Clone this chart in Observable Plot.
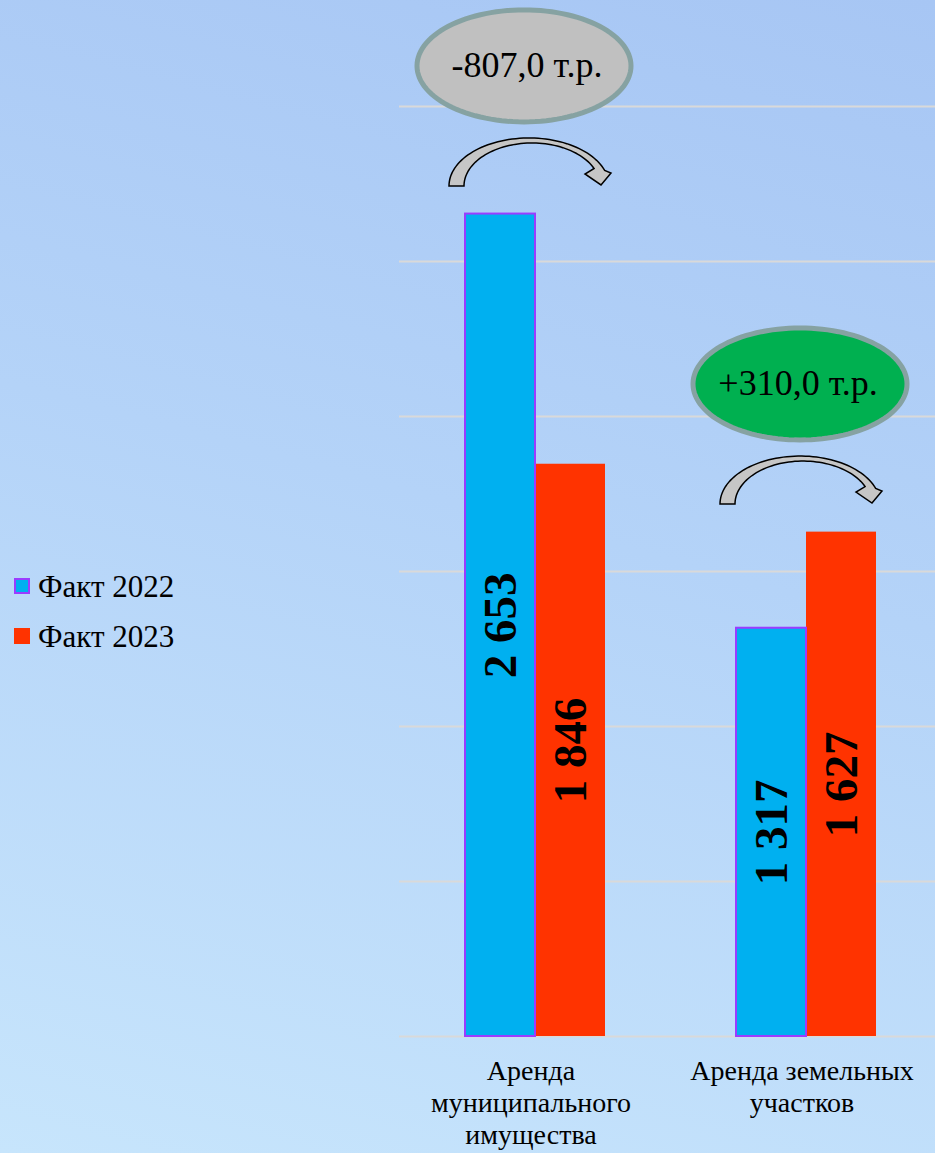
<!DOCTYPE html>
<html>
<head>
<meta charset="utf-8">
<script src="https://cdn.jsdelivr.net/npm/d3@7"></script>
<script src="https://cdn.jsdelivr.net/npm/@observablehq/plot@0.6"></script>
<style>
  html, body { margin: 0; padding: 0; }
  #wrap {
    position: relative; width: 935px; height: 1153px; overflow: hidden;
    background: linear-gradient(195deg, #a7c6f4 0%, #b4d3f8 45%, #c7e5fc 100%);
    font-family: "Liberation Serif", "Times New Roman", serif;
  }
  #chart { position: absolute; left: 0; top: 0; }
  .leg { position: absolute; left: 0; font-size: 31px; line-height: 31px; color: #000; white-space: nowrap; }
  .leg .sw { position: absolute; left: 14px; width: 16px; height: 16px; box-sizing: border-box; }
  .leg .lb { position: absolute; left: 38px; }
</style>
</head>
<body>
<div id="wrap">
  <div id="chart"></div>
  <div id="legend"></div>
</div>
<script>
// ---- data ----
const categories = ["Аренда\nмуниципального\nимущества", "Аренда земельных\nучастков"];
const series = ["Факт 2022", "Факт 2023"];
const values2022 = [2653, 1317];
const values2023 = [1846, 1627];
const yTicks = [0, 500, 1000, 1500, 2000, 2500, 3000];

// ---- derived tables ----
const table = categories.flatMap((c, i) => [
  {category: c, series: series[0], value: values2022[i]},
  {category: c, series: series[1], value: values2023[i]}
]);
const notes = categories.map((c, i) => {
  const change = values2023[i] - values2022[i];
  return {
    category: c,
    change,
    top: Math.max(values2022[i], values2023[i]),
    label: (change < 0 ? "-" : "+") + Math.abs(change).toFixed(1).replace(".", ",") + " т.р."
  };
});

const fmt = d3.formatLocale({decimal: ",", thousands: " ", grouping: [3], currency: ["", ""]}).format(",d");

// ---- shapes ----
const ellipseSymbol = {
  draw(ctx) {
    const rx = 107, ry = 56, n = 120;
    for (let i = 0; i <= n; i++) {
      const t = (i / n) * 2 * Math.PI;
      const px = rx * Math.cos(t), py = ry * Math.sin(t);
      if (i === 0) ctx.moveTo(px, py); else ctx.lineTo(px, py);
    }
    ctx.closePath();
  }
};
const arrowSymbol = {
  draw(ctx) {
    const n = 60;
    const ocx = 0, ocy = 24, orx = 80, ory = 48;
    const t0 = Math.PI, t1 = 0.33;
    for (let i = 0; i <= n; i++) {
      const t = t0 + (t1 - t0) * i / n;
      const px = ocx + orx * Math.cos(t), py = ocy - ory * Math.sin(t);
      if (i === 0) ctx.moveTo(px, py); else ctx.lineTo(px, py);
    }
    ctx.lineTo(82, 11);
    ctx.lineTo(72, 23);
    ctx.lineTo(56, 12);
    const icx = 3, icy = 24, irx = 68, iry = 43;
    const s0 = 0.42, s1 = Math.PI;
    for (let i = 0; i <= n; i++) {
      const t = s0 + (s1 - s0) * i / n;
      ctx.lineTo(icx + irx * Math.cos(t), icy - iry * Math.sin(t));
    }
    ctx.closePath();
  }
};

const fontFamily = "Liberation Serif, Times New Roman, serif";

const chart = Plot.plot({
  width: 935,
  height: 1153,
  marginLeft: 398,
  marginRight: -6,
  marginTop: 106,
  marginBottom: 117,
  style: {background: "transparent", fontFamily, fontSize: "28px", color: "#000", overflow: "visible"},
  fx: {domain: categories, padding: 0, label: null},
  x: {domain: series, paddingInner: 0, paddingOuter: 0.91, axis: null},
  y: {domain: [0, 3000], axis: null},
  marks: [
    Plot.gridY(yTicks, {stroke: "#d9d9d9", strokeOpacity: 1, strokeWidth: 2}),
    Plot.barY(table.filter(d => d.series === series[1]), {fx: "category", x: "series", y: "value", fill: "#ff3300"}),
    Plot.barY(table.filter(d => d.series === series[0]), {fx: "category", x: "series", y: "value", fill: "#00b0f0", stroke: "#9b3cff", strokeWidth: 2}),
    Plot.text(table, {fx: "category", x: "series", y: d => d.value / 2, text: d => fmt(d.value), rotate: -90,
      fontSize: 47, fontWeight: "bold", fill: "#000", fontFamily}),
    Plot.dot(notes.filter(d => d.change < 0), {fx: "category", y: d => d.top + 478, symbol: ellipseSymbol, r: 10,
      fill: "#c0c0c0", stroke: "#86a2a2", strokeWidth: 5, dx: -11}),
    Plot.dot(notes.filter(d => d.change >= 0), {fx: "category", y: d => d.top + 478, symbol: ellipseSymbol, r: 10,
      fill: "#00b050", stroke: "#86a2a2", strokeWidth: 5, dx: -6}),
    Plot.text(notes, {fx: "category", y: d => d.top + 478, text: "label", fontSize: 36, fill: "#000", dx: -8, fontFamily}),
    Plot.dot(notes, {fx: "category", y: d => d.top + 168, symbol: arrowSymbol, r: 10,
      fill: "#c6c6c6", stroke: "#000", strokeWidth: 1.5, dx: -6}),
    Plot.axisFx({anchor: "bottom", tickSize: 0, tickPadding: 21, fontSize: 28, lineHeight: 1.14, label: null, fill: "#000", fontFamily, dx: -4})
  ]
});
document.getElementById("chart").appendChild(chart);

// ---- legend ----
const legendColors = [{fill: "#00b0f0", border: "2px solid #9b3cff"}, {fill: "#ff3300", border: "none"}];
const legend = document.getElementById("legend");
series.forEach((s, i) => {
  const row = document.createElement("div");
  row.className = "leg";
  row.style.top = (571 + i * 50) + "px";
  const sw = document.createElement("span");
  sw.className = "sw";
  sw.style.top = "7px";
  sw.style.background = legendColors[i].fill;
  sw.style.border = legendColors[i].border;
  const lb = document.createElement("span");
  lb.className = "lb";
  lb.textContent = s;
  row.appendChild(sw);
  row.appendChild(lb);
  legend.appendChild(row);
});
</script>
</body>
</html>
